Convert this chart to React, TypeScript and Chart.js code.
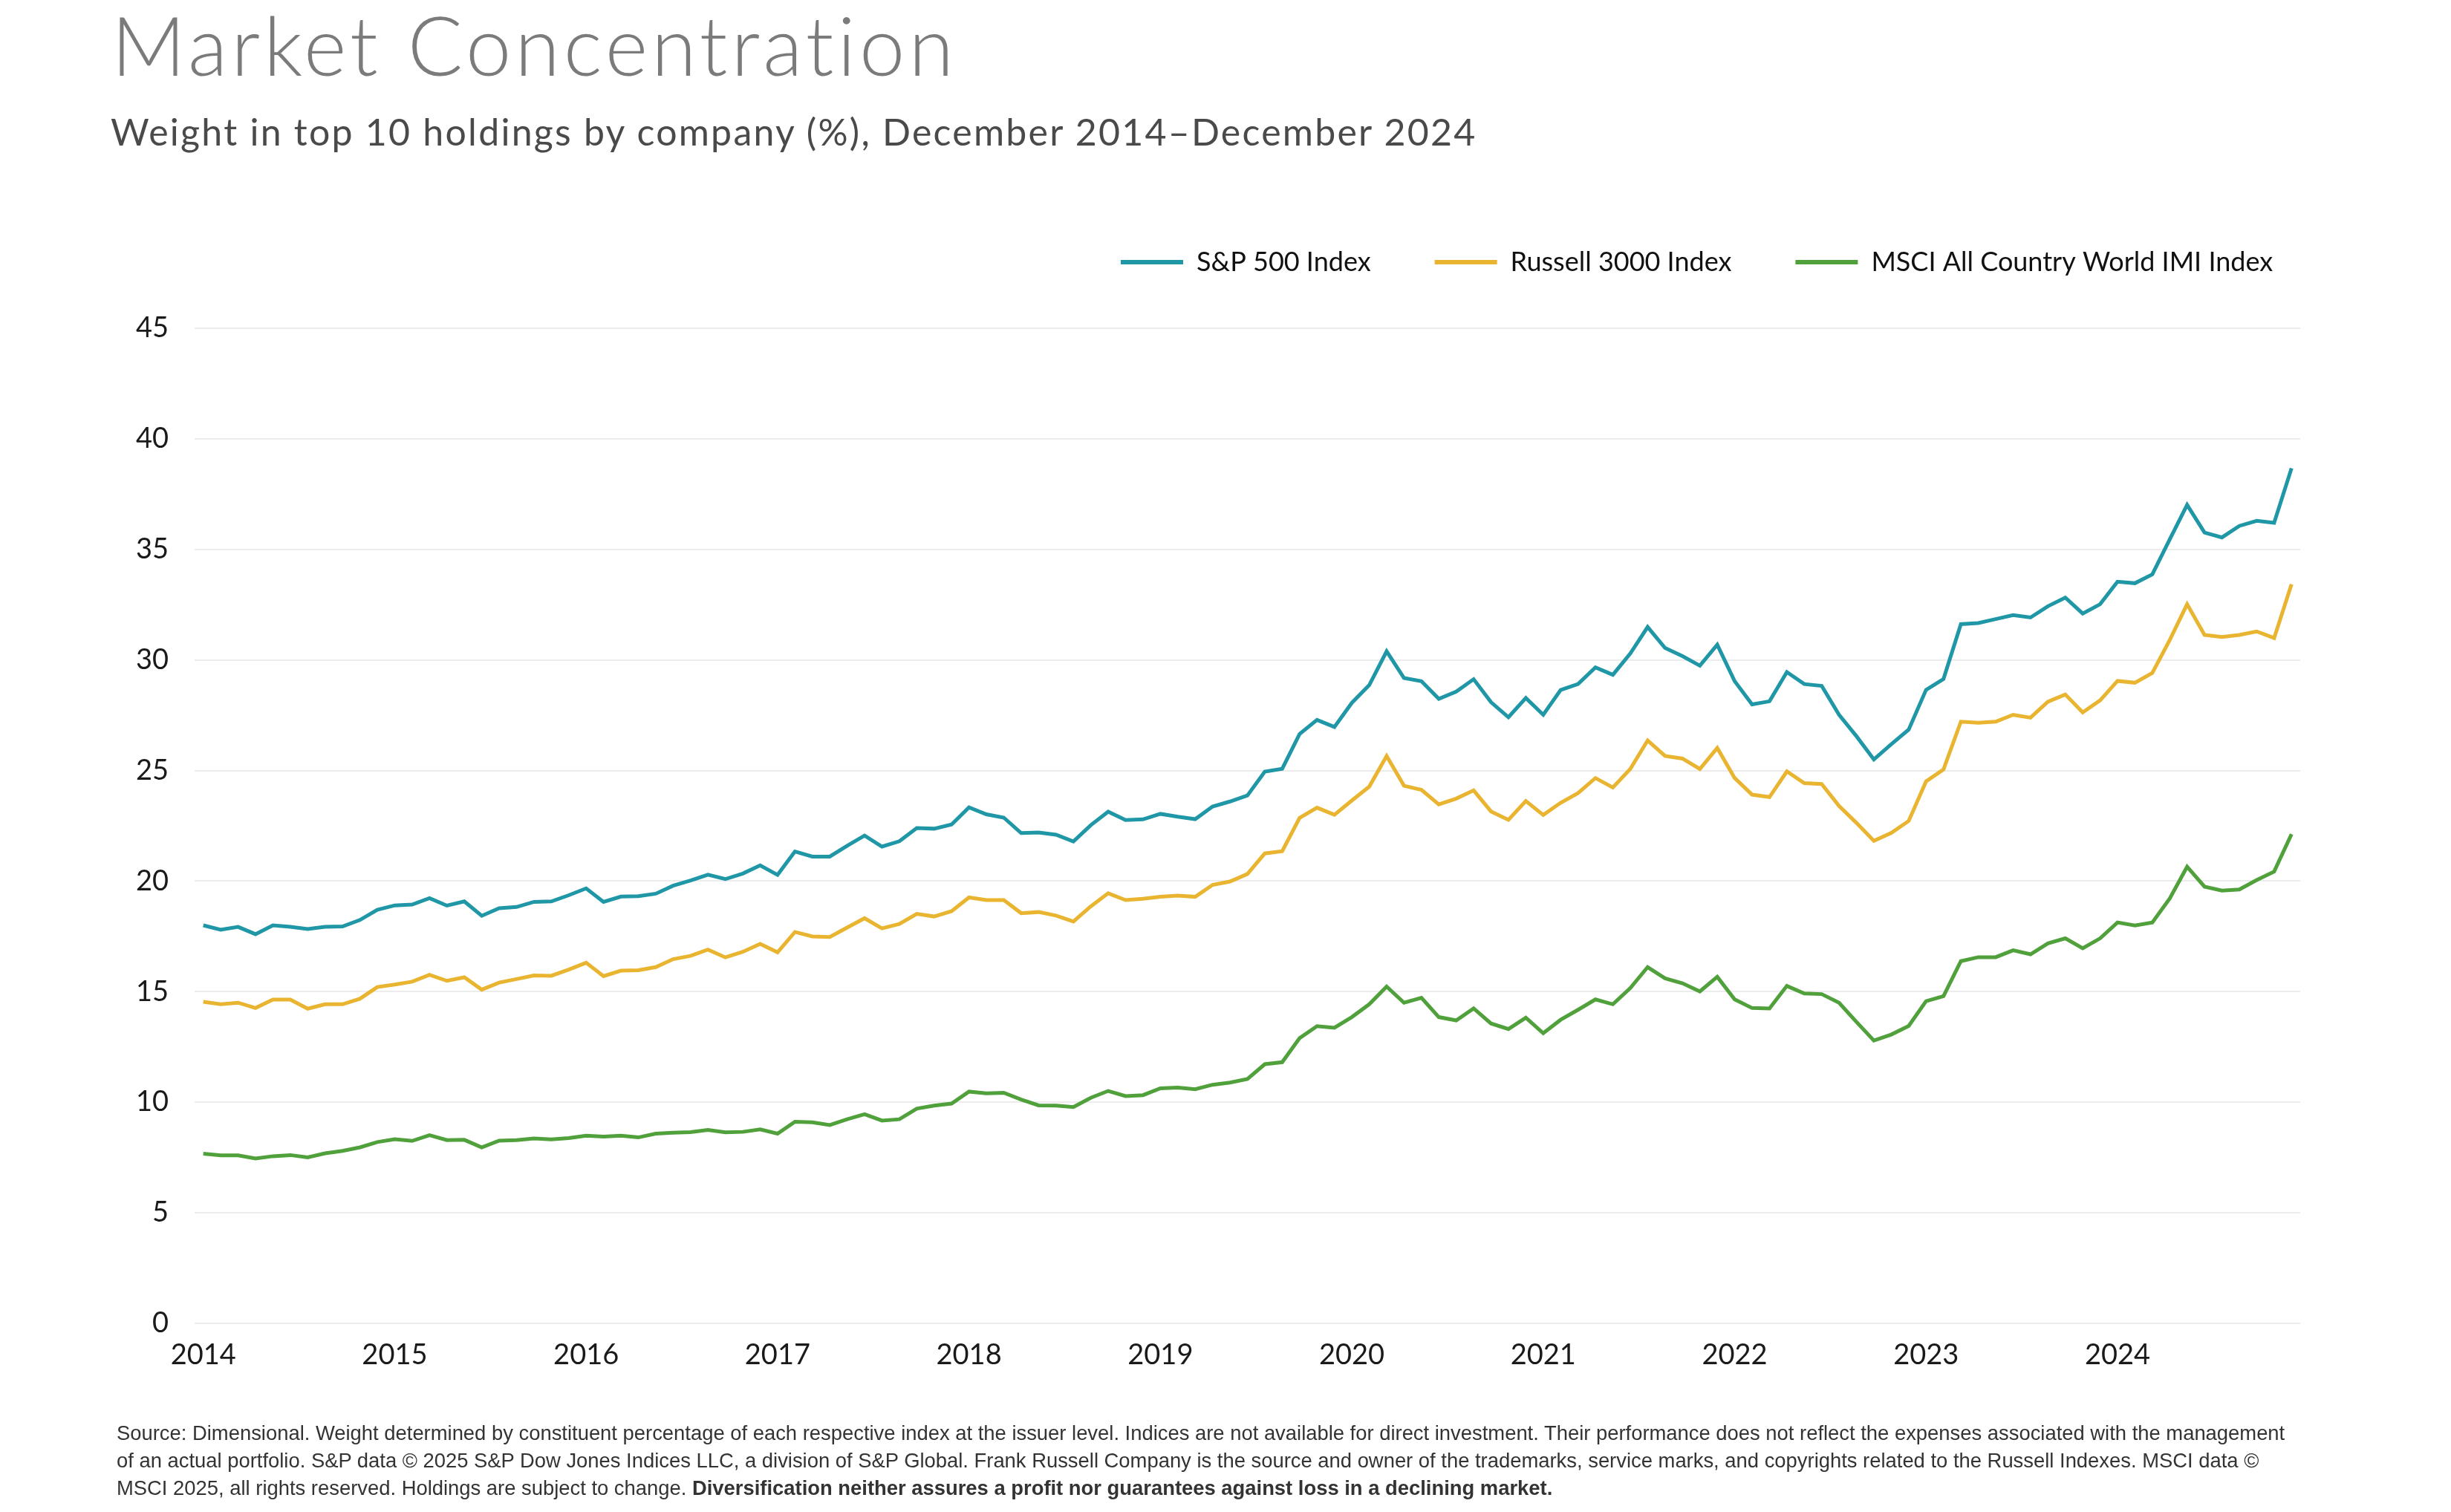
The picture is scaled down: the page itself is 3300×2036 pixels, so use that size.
import React, { useEffect, useRef } from 'react';
import { Chart, registerables } from 'chart.js';

Chart.register(...registerables);

// Monthly observations, December 2014 – December 2024
const firstYear = 2014;
const firstMonthIndex = 11; // December
const pointCount = 121;
const categories: string[] = [];
for (let i = 0; i < pointCount; i++) {
  const m = firstMonthIndex + i;
  const y = firstYear + Math.floor(m / 12);
  const mm = (m % 12) + 1;
  categories.push(`${y}-${String(mm).padStart(2, '0')}`);
}
const tickEvery = 11;

const sp500: number[] = [
  18.0, 17.8, 17.93, 17.6, 18.0, 17.93, 17.83, 17.93, 17.95, 18.24,
  18.7, 18.9, 18.94, 19.23, 18.89, 19.08, 18.43, 18.77, 18.83, 19.06,
  19.08, 19.36, 19.67, 19.06, 19.3, 19.32, 19.43, 19.79, 20.03, 20.29,
  20.09, 20.34, 20.71, 20.28, 21.34, 21.11, 21.11, 21.6, 22.06, 21.56,
  21.8, 22.4, 22.37, 22.56, 23.33, 23.02, 22.87, 22.17, 22.2, 22.1,
  21.79, 22.53, 23.14, 22.76, 22.79, 23.04, 22.91, 22.8, 23.37, 23.6,
  23.87, 24.95, 25.08, 26.65, 27.29, 26.97, 28.06, 28.86, 30.39, 29.18,
  29.04, 28.24, 28.57, 29.13, 28.09, 27.41, 28.28, 27.52, 28.64, 28.91,
  29.66, 29.33, 30.29, 31.49, 30.54, 30.17, 29.74, 30.69, 29.04, 27.99,
  28.13, 29.45, 28.91, 28.83, 27.52, 26.55, 25.5, 26.19, 26.85, 28.65,
  29.14, 31.62, 31.67, 31.85, 32.03, 31.92, 32.43, 32.82, 32.1, 32.52,
  33.54, 33.47, 33.87, 35.45, 37.01, 35.76, 35.54, 36.06, 36.29, 36.2, 38.67,
];

const russell3000: number[] = [
  14.54, 14.43, 14.5, 14.26, 14.64, 14.64, 14.23, 14.43, 14.43, 14.68,
  15.21, 15.32, 15.45, 15.76, 15.49, 15.65, 15.09, 15.41, 15.57, 15.73,
  15.72, 16.0, 16.31, 15.7, 15.95, 15.97, 16.11, 16.47, 16.62, 16.9,
  16.55, 16.8, 17.16, 16.78, 17.7, 17.5, 17.47, 17.9, 18.32, 17.86,
  18.06, 18.52, 18.4, 18.64, 19.26, 19.14, 19.14, 18.55, 18.6, 18.44,
  18.17, 18.86, 19.45, 19.14, 19.2, 19.29, 19.34, 19.29, 19.83, 19.98,
  20.32, 21.25, 21.35, 22.86, 23.32, 23.0, 23.64, 24.27, 25.66, 24.31,
  24.13, 23.47, 23.73, 24.1, 23.15, 22.77, 23.62, 22.99, 23.54, 23.98,
  24.66, 24.23, 25.07, 26.36, 25.66, 25.54, 25.07, 26.02, 24.66, 23.91,
  23.8, 24.96, 24.43, 24.39, 23.4, 22.63, 21.82, 22.18, 22.72, 24.51,
  25.05, 27.21, 27.16, 27.21, 27.52, 27.39, 28.11, 28.44, 27.63, 28.17,
  29.05, 28.97, 29.41, 30.9, 32.52, 31.13, 31.04, 31.13, 31.29, 30.99, 33.42,
];

const msciAcwiImi: number[] = [
  7.67, 7.6, 7.6, 7.46, 7.56, 7.61, 7.51, 7.69, 7.8, 7.96,
  8.2, 8.33, 8.25, 8.51, 8.29, 8.3, 7.96, 8.26, 8.29, 8.36,
  8.32, 8.38, 8.49, 8.45, 8.49, 8.41, 8.58, 8.62, 8.65, 8.75,
  8.64, 8.66, 8.77, 8.58, 9.12, 9.09, 8.97, 9.23, 9.46, 9.17,
  9.23, 9.71, 9.85, 9.94, 10.48, 10.4, 10.43, 10.12, 9.86, 9.85,
  9.78, 10.2, 10.51, 10.28, 10.32, 10.63, 10.66, 10.59, 10.79, 10.89,
  11.05, 11.72, 11.81, 12.9, 13.44, 13.37, 13.85, 14.43, 15.23, 14.5,
  14.72, 13.85, 13.7, 14.24, 13.56, 13.31, 13.82, 13.12, 13.73, 14.18,
  14.65, 14.43, 15.16, 16.11, 15.6, 15.38, 15.01, 15.67, 14.65, 14.26,
  14.24, 15.26, 14.92, 14.89, 14.5, 13.63, 12.79, 13.06, 13.45, 14.57,
  14.8, 16.38, 16.56, 16.56, 16.87, 16.69, 17.18, 17.41, 16.96, 17.41,
  18.13, 17.99, 18.13, 19.21, 20.65, 19.75, 19.57, 19.62, 20.05, 20.43, 22.12,
];

const seriesNames = ['S&P 500 Index', 'Russell 3000 Index', 'MSCI All Country World IMI Index'];
const seriesColors = ['#1F97A6', '#E9B42F', '#50A13B'];

const titleText = 'Market Concentration';
const subtitleText = 'Weight in top 10 holdings by company (%), December 2014\u2013December 2024';
const noteLine1 =
  'Source: Dimensional. Weight determined by constituent percentage of each respective index at the issuer level. Indices are not available for direct investment. Their performance does not reflect the expenses associated with the management';
const noteLine2 =
  'of an actual portfolio. S&P data \u00A9 2025 S&P Dow Jones Indices LLC, a division of S&P Global. Frank Russell Company is the source and owner of the trademarks, service marks, and copyrights related to the Russell Indexes. MSCI data \u00A9';
const noteLine3a = 'MSCI 2025, all rights reserved. Holdings are subject to change. ';
const noteLine3b = 'Diversification neither assures a profit nor guarantees against loss in a declining market.';

const W = 3300;
const H = 2036;
const FONT = 'Lato, "Noto Sans", sans-serif';
const LEGEND_PAD = 86;

const legendTweak = {
  id: 'legendTweak',
  beforeLayout(chart: any) {
    const lg = chart.legend;
    if (lg && !lg.__patched) {
      const fit = lg.fit.bind(lg);
      lg.fit = () => {
        fit();
        lg.height += 61;
      };
      lg.__patched = true;
    }
  },
  afterLayout(chart: any) {
    const lg = chart.legend;
    if (lg) {
      lg.left = 1509 - LEGEND_PAD;
      lg.right = W;
    }
  },
};

export default function App() {
  const canvasRef = useRef<HTMLCanvasElement | null>(null);

  useEffect(() => {
    if (!canvasRef.current) return;
    const values = [sp500, russell3000, msciAcwiImi];
    const chart = new Chart(canvasRef.current, {
      type: 'line',
      data: {
        labels: categories,
        datasets: values.map((v, i) => ({
          label: seriesNames[i],
          data: v,
          borderColor: seriesColors[i],
          backgroundColor: seriesColors[i],
          borderWidth: 5,
          pointRadius: 0,
          pointHoverRadius: 0,
          tension: 0,
          fill: false,
        })),
      },
      options: {
        animation: false,
        responsive: false,
        maintainAspectRatio: false,
        devicePixelRatio: 1,
        layout: { padding: { left: 0, right: 203, top: 335 - LEGEND_PAD, bottom: 154 } },
        plugins: {
          title: { display: false },
          tooltip: { enabled: false },
          legend: {
            display: true,
            position: 'top',
            align: 'start',
            labels: {
              boxWidth: 84,
              boxHeight: 6,
              padding: LEGEND_PAD,
              color: '#111111',
              font: { family: FONT, size: 36 },
              generateLabels: (c: any) =>
                (Chart.defaults.plugins.legend.labels.generateLabels as any)(c).map((l: any) => ({
                  ...l,
                  lineWidth: 0,
                })),
            },
          },
        },
        scales: {
          x: {
            type: 'category',
            offset: true,
            grid: { display: false, drawTicks: false },
            border: { display: false },
            ticks: {
              autoSkip: false,
              maxRotation: 0,
              minRotation: 0,
              padding: 20,
              color: '#1a1a1a',
              font: { family: FONT, size: 38 },
              callback: (_v: any, index: number) =>
                index % tickEvery === 0 ? categories[index].slice(0, 4) : null,
            },
            afterFit: (scale: any) => {
              scale.height = 100;
            },
          },
          y: {
            min: 0,
            max: 45,
            grid: { color: '#ececec', lineWidth: 2, drawTicks: false },
            border: { display: false },
            ticks: {
              stepSize: 5,
              padding: 35,
              color: '#1a1a1a',
              font: { family: FONT, size: 38 },
            },
            afterFit: (scale: any) => {
              scale.width = 262;
            },
          },
        },
      },
      plugins: [legendTweak],
    } as any);
    return () => chart.destroy();
  }, []);

  return (
    <div
      style={{
        position: 'absolute',
        left: 0,
        top: 0,
        width: W,
        height: H,
        background: '#ffffff',
        overflow: 'hidden',
      }}
    >
      <canvas
        ref={canvasRef}
        width={W}
        height={H}
        style={{ position: 'absolute', left: 0, top: 0, width: W, height: H }}
      />
      <div
        style={{
          position: 'absolute',
          left: 150,
          top: 4,
          fontFamily: FONT,
          fontWeight: 300,
          fontSize: 110,
          lineHeight: '110px',
          letterSpacing: '5px',
          fontVariantLigatures: 'none',
          color: '#7b7b7b',
          whiteSpace: 'nowrap',
        }}
      >
        {titleText}
      </div>
      <div
        style={{
          position: 'absolute',
          left: 149,
          top: 152,
          fontFamily: FONT,
          fontWeight: 400,
          fontSize: 50,
          lineHeight: '50px',
          letterSpacing: '2.25px',
          fontVariantLigatures: 'none',
          color: '#4a4a4a',
          whiteSpace: 'nowrap',
        }}
      >
        {subtitleText}
      </div>
      <div
        style={{
          position: 'absolute',
          left: 157,
          top: 1911,
          fontFamily: '"Liberation Sans", Arial, sans-serif',
          fontSize: 27.4,
          lineHeight: '37px',
          color: '#333333',
          whiteSpace: 'nowrap',
        }}
      >
        <div>{noteLine1}</div>
        <div>{noteLine2}</div>
        <div>
          {noteLine3a}
          <b>{noteLine3b}</b>
        </div>
      </div>
    </div>
  );
}
